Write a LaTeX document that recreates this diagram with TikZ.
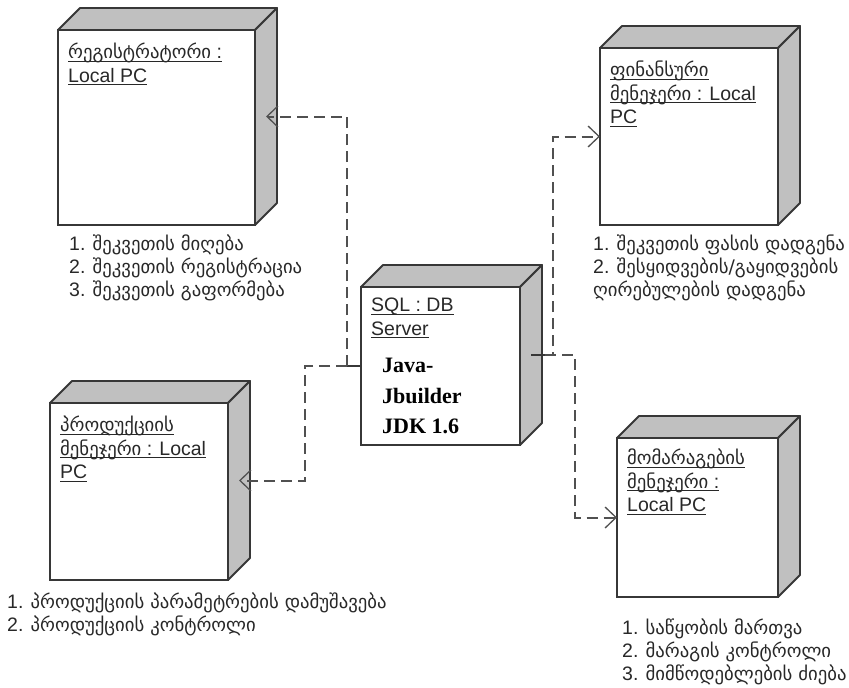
\documentclass[tikz,border=0pt]{standalone}
\usepackage{fontspec}
\setmainfont{Liberation Sans}
\newfontfamily\geo[Scale=0.96]{DejaVu Sans}
\newfontfamily\javafont{Liberation Serif}
\definecolor{umlgray}{RGB}{192,192,192}
\definecolor{umlline}{RGB}{55,55,55}
\definecolor{umldash}{RGB}{80,80,80}
\definecolor{umltext}{RGB}{40,40,40}
\usetikzlibrary{arrows.meta,calc}

%% underlined line of a node title
\newcommand{\ulbox}[1]{\setbox0=\hbox{#1}\rlap{\rule[-3pt]{\wd0}{1.2pt}}\box0}
%% top and side faces of a 3D node
\newcommand{\nodefaces}[1]{%
  \filldraw[boxface] (#1.north west) -- ([shift={(22,-22)}]#1.north west) -- ([shift={(22,-22)}]#1.north east) -- (#1.north east) -- cycle;
  \filldraw[boxface] (#1.north east) -- ([shift={(22,-22)}]#1.north east) -- ([shift={(22,-22)}]#1.south east) -- (#1.south east) -- cycle;
}

\begin{document}
\begin{tikzpicture}[x=1pt,y=-1pt,
  devbox/.style={draw=umlline, fill=white, line width=1.8pt, outer sep=0pt, inner sep=0pt},
  boxface/.style={draw=umlline, fill=umlgray, line width=1.8pt, line join=round},
  title/.style={anchor=north west, inner sep=0pt, align=left, text=umltext, font=\fontsize{19.5}{23.5}\selectfont},
  duties/.style={anchor=north west, inner sep=0pt, align=left, text=umltext, font=\fontsize{19.5}{23}\selectfont},
  dep/.style={draw=umldash, line width=2pt, dash pattern=on 11pt off 6pt, -{Straight Barb[length=11pt,width=21pt,line width=1.3pt]}},
  tickmark/.style={draw=umlline, line width=2.4pt}]
  \useasboundingbox (0,0) rectangle (849,688);

  %% Nodes
  \node[devbox, minimum width=197pt, minimum height=195pt] (reg)  at (156.5,127.5) {};
  \node[devbox, minimum width=178pt, minimum height=177pt] (fin)  at (689,136.5) {};
  \node[devbox, minimum width=159pt, minimum height=158pt] (db)   at (440.5,366) {};
  \node[devbox, minimum width=178pt, minimum height=177pt] (prod) at (139,491.5) {};
  \node[devbox, minimum width=161pt, minimum height=159pt] (sup)  at (697.5,517.5) {};
  \foreach \n in {reg,fin,db,prod,sup} {\nodefaces{\n}}

  %% Node titles
  \node[title] (regT)  at ([shift={(10,13)}]reg.north west)  {\ulbox{{\geo რეგისტრატორი} :}\\\ulbox{Local PC}};
  \node[title] (finT)  at ([shift={(10,13)}]fin.north west)  {\ulbox{\geo ფინანსური}\\\ulbox{{\geo მენეჯერი} : Local}\\\ulbox{PC}};
  \node[title] (dbT)   at ([shift={(10,11)}]db.north west)   {\ulbox{SQL : DB}\\\ulbox{Server}};
  \node[title] (prodT) at ([shift={(10,13)}]prod.north west) {\ulbox{\geo პროდუქციის}\\\ulbox{{\geo მენეჯერი} : Local}\\\ulbox{PC}};
  \node[title] (supT)  at ([shift={(10,11)}]sup.north west)  {\ulbox{\geo მომარაგების}\\\ulbox{{\geo მენეჯერი} :}\\\ulbox{Local PC}};
  \node[anchor=north west, inner sep=0pt, align=left, font=\javafont\bfseries\fontsize{22}{30.5}\selectfont] (dbJava) at (382,358) {Java-\\Jbuilder\\JDK 1.6};

  %% Duties under the nodes
  \node[duties] (regL)  at (69,235)  {1. {\geo შეკვეთის მიღება}\\2. {\geo შეკვეთის რეგისტრაცია}\\3. {\geo შეკვეთის გაფორმება}};
  \node[duties] (finL)  at (593,235) {1. {\geo შეკვეთის ფასის დადგენა}\\2. {\geo შესყიდვების/გაყიდვების}\\{\geo ღირებულების დადგენა}};
  \node[duties] (prodL) at (7,593)   {1. {\geo პროდუქციის პარამეტრების დამუშავება}\\2. {\geo პროდუქციის კონტროლი}};
  \node[duties] (supL)  at (622,619) {1. {\geo საწყობის მართვა}\\2. {\geo მარაგის კონტროლი}\\3. {\geo მიმწოდებლების ძიება}};

  %% Dependencies
  \coordinate (dbL) at ([shift={(-14,0)}]db.west);
  \coordinate (dbR) at ([shift={(25,-11)}]db.east);
  \draw[tickmark] (db.west) -- (dbL);
  \draw[tickmark] ([shift={(11,-11)}]db.east) -- (dbR);
  \draw[dep] (dbL) |- ([shift={(11,-11)}]reg.east);
  \draw[dep] (dbL) -- ++(-42,0) |- ([shift={(11,-11)}]prod.east);
  \draw[dep] (dbR) -- ++(8,0) |- (fin.west);
  \draw[dep] (dbR) -- ++(30,0) |- (sup.west);
\end{tikzpicture}
\end{document}
